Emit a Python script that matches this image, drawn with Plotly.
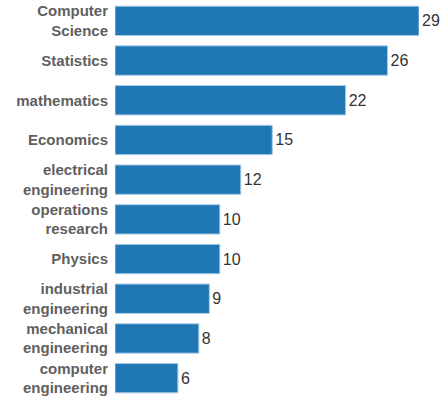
import plotly.graph_objects as go

categories = ["Computer<br>Science", "Statistics", "mathematics", "Economics",
              "electrical<br>engineering", "operations<br>research", "Physics",
              "industrial<br>engineering", "mechanical<br>engineering", "computer<br>engineering"]
values = [29, 26, 22, 15, 12, 10, 10, 9, 8, 6]

fig = go.Figure(go.Bar(
    x=values, y=categories, orientation="h",
    marker=dict(color="#1f77b4", line=dict(color="#a9cbe8", width=1)),
    text=values, textposition="outside", cliponaxis=False,
    textfont=dict(family="Liberation Sans, Arial", size=16, color="#333333"),
    width=0.74,
))
fig.update_layout(
    width=445, height=398,
    margin=dict(l=115, r=26, t=1, b=0),
    plot_bgcolor="white", paper_bgcolor="white",
    showlegend=False,
    xaxis=dict(range=[0, 29], visible=False, showgrid=False, zeroline=False),
    yaxis=dict(autorange="reversed", showgrid=False, zeroline=False, showline=False,
               ticks="", ticklabelstandoff=6,
               tickfont=dict(family="Liberation Sans, Arial", size=15, color="#5f5f5f", weight="bold")),
)
fig.write_html("out.html")
